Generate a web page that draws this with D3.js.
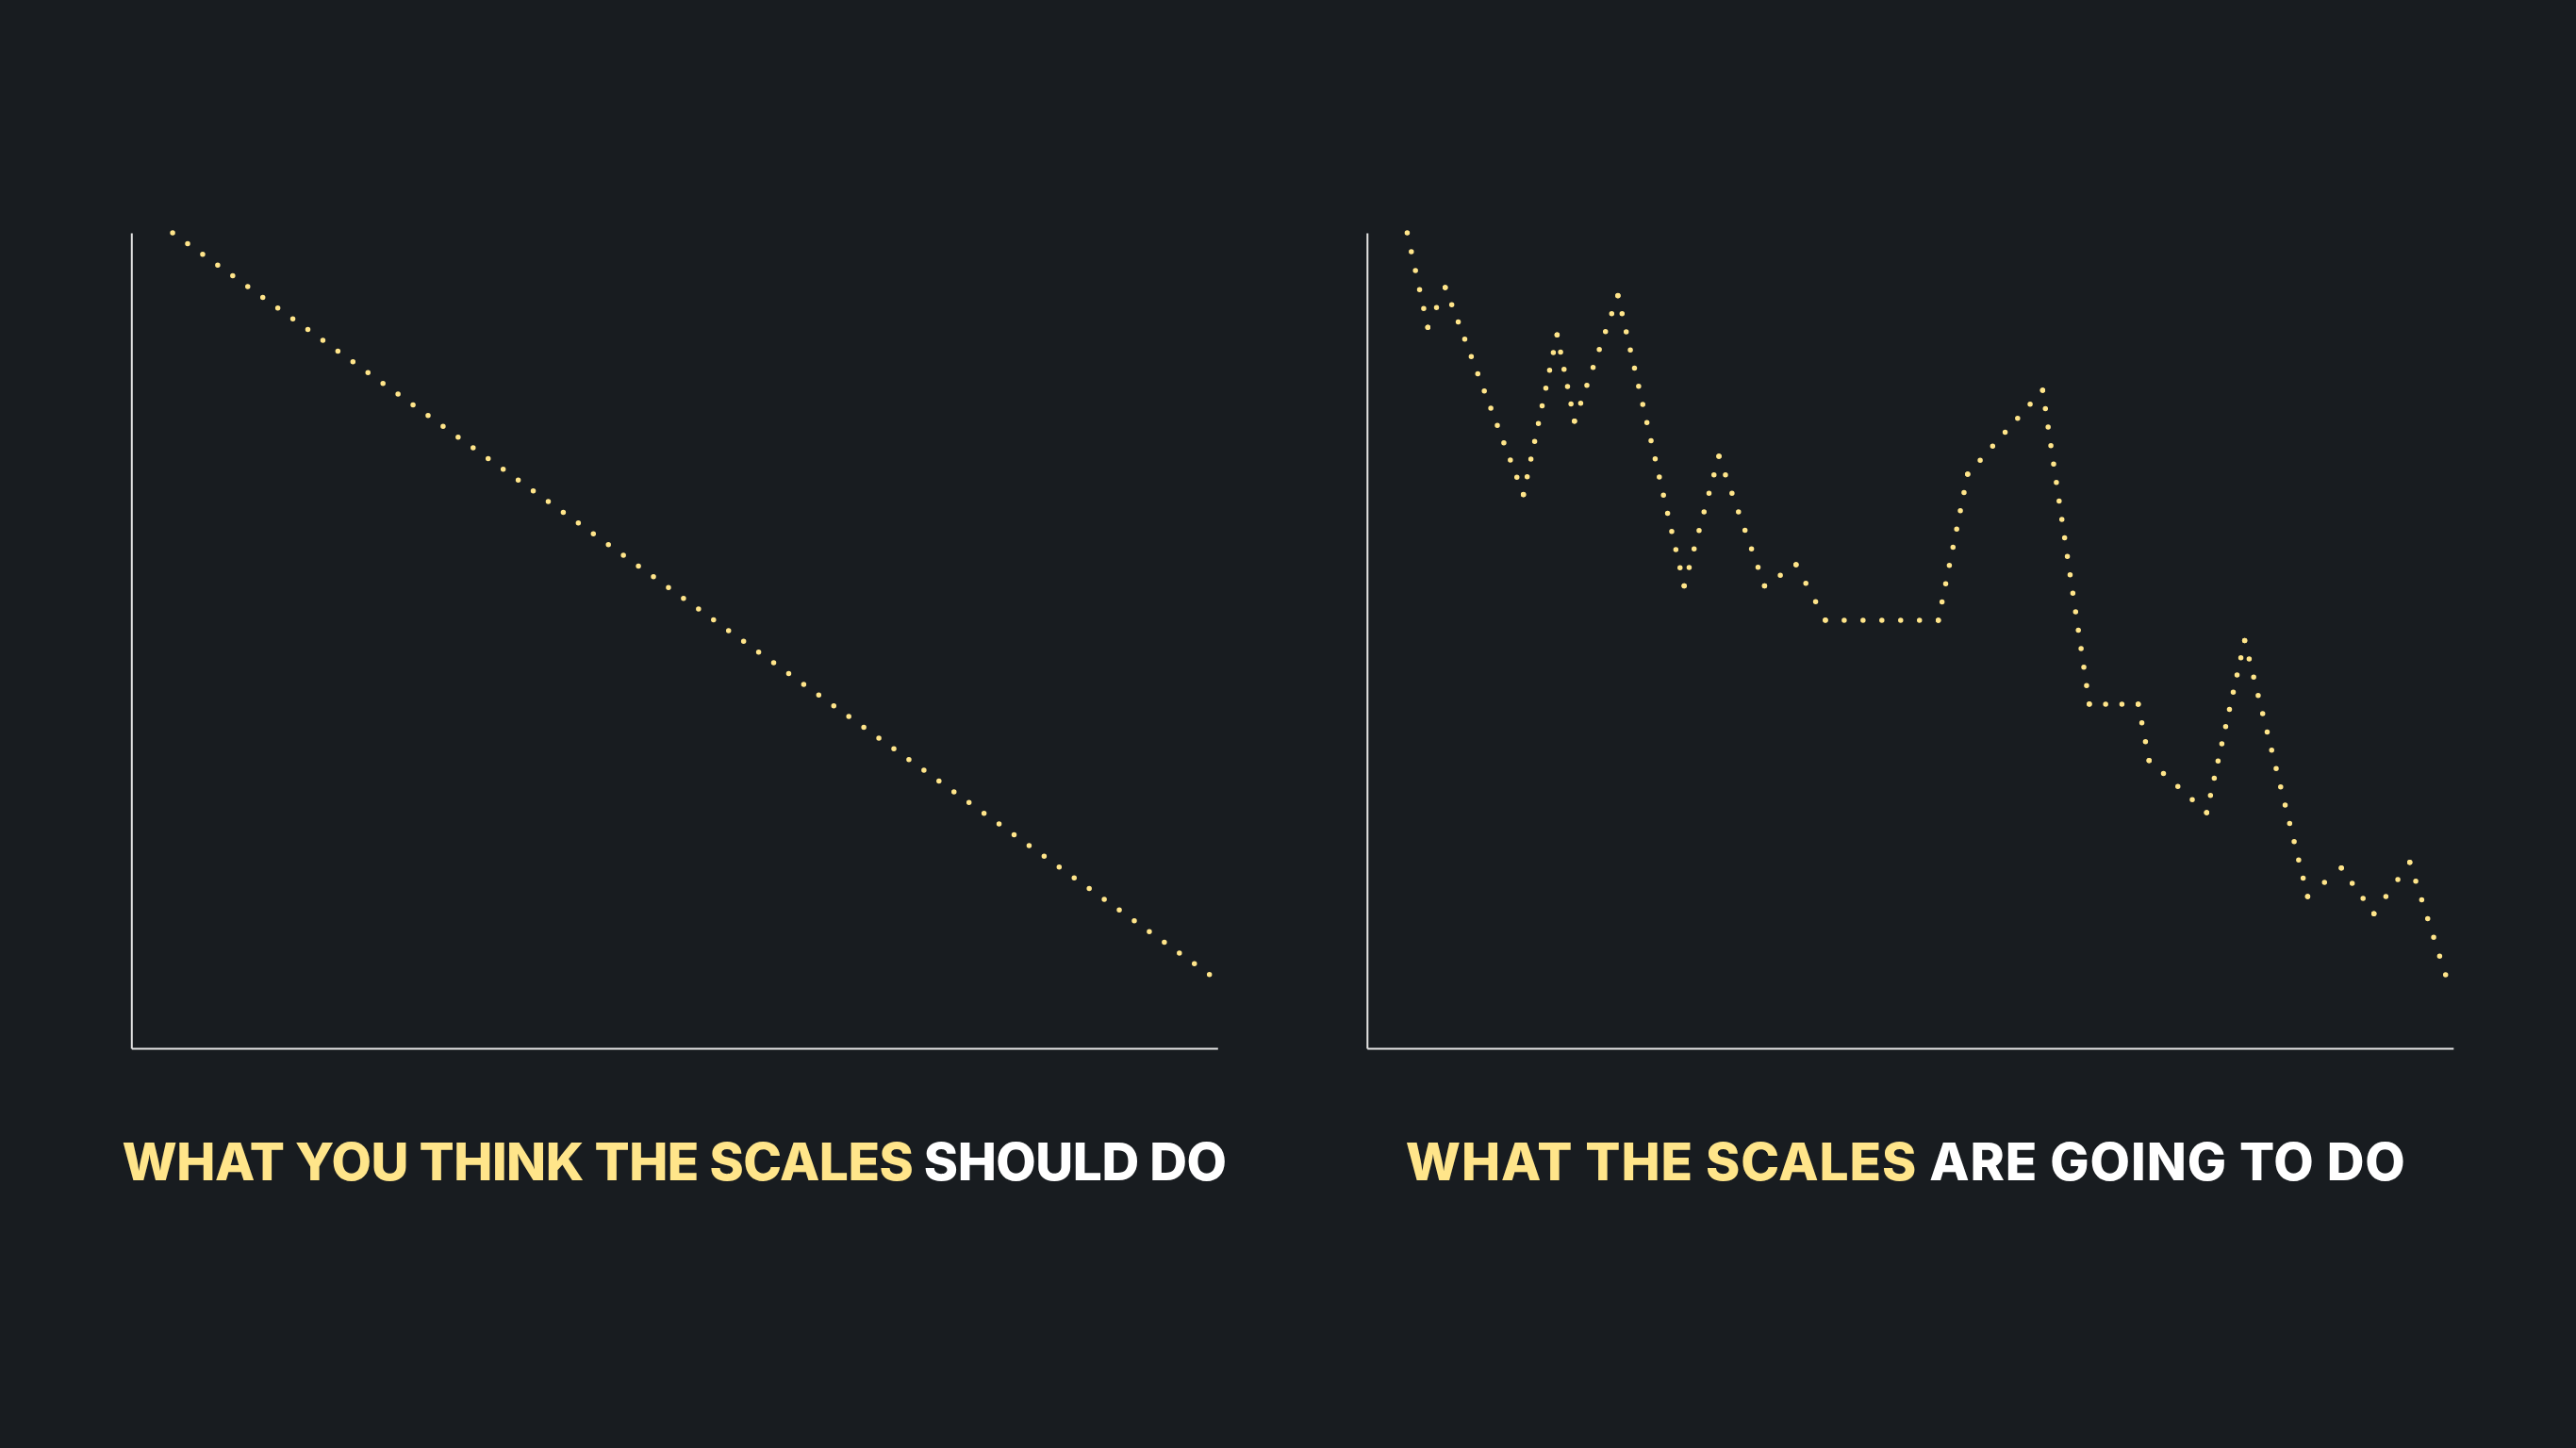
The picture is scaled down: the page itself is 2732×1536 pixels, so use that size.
<!DOCTYPE html>
<html>
<head>
<meta charset="utf-8">
<script src="https://cdn.jsdelivr.net/npm/d3@7"></script>
<style>
  html, body { margin: 0; padding: 0; background: #181c20; }
  svg { display: block; }
</style>
</head>
<body>
<div id="chart"></div>
<script>

// Data: "expected" straight line, and the bumpy "actual" line (x and y in % of the axes)
const expectedX = [3.8, 99.3];
const expectedY = [100, 9.0];

const actualX = [3.7, 5.6, 7.2, 14.4, 17.5, 19.1, 23.1, 29.2, 32.4, 36.6, 39.5, 42.2, 52.6,
                 55.3, 62.2, 66.5, 71.0, 72.0, 77.3, 80.8, 86.6, 89.7, 92.7, 96.0, 99.3];
const actualY = [100, 88.4, 93.3, 67.9, 87.5, 76.9, 92.3, 56.7, 72.6, 56.7, 59.3, 52.5, 52.5,
                 70.4, 80.7, 42.2, 42.2, 35.3, 28.9, 50.0, 18.6, 22.1, 16.5, 22.8, 9.0];

const leftTitle = ["WHAT YOU THINK THE SCALES", " SHOULD DO"];
const rightTitle = ["WHAT THE SCALES", " ARE GOING TO DO"];

function drawChart(width, height, selector) {

	// colours
	let bg = "#181c20";
	let yellow = "#ffe58a";
	let white = "#ffffff";
	let axisColor = "#e4e4e4";

	// dimensions
	let panelWidth = 1152;
	let top = 247;
	let bottom = 1112;
	let titleY = 1252;
	let dotGap = 19.6;

	let svg = d3.select(selector)
		.append("svg")
		.attr("width", width)
		.attr("height", height)
		.style("background", bg);

	function drawPanel(left, xs, ys, title, titleWidth, titleShift) {
		let x = d3.scaleLinear().domain([0, 100]).range([left, left + panelWidth]);
		let y = d3.scaleLinear().domain([0, 100]).range([bottom, top]);

		let g = svg.append("g");

		// axes: only the domain lines, no ticks
		g.append("g")
			.attr("transform", `translate(0,${bottom})`)
			.call(d3.axisBottom(x).ticks(0).tickSize(0).tickSizeOuter(0));
		g.append("g")
			.attr("transform", `translate(${left},0)`)
			.call(d3.axisLeft(y).ticks(0).tickSize(0).tickSizeOuter(0));
		g.selectAll(".domain")
			.attr("stroke", axisColor)
			.attr("stroke-width", 2);

		// dotted line, dots aligned to each corner
		let points = xs.map((d, i) => [d, ys[i]]);
		let line = d3.line().x(d => x(d[0])).y(d => y(d[1]));

		g.selectAll(".seg")
			.data(d3.pairs(points))
			.join("path")
			.attr("class", "seg")
			.attr("d", d => line(d))
			.attr("fill", "none")
			.attr("stroke", yellow)
			.attr("stroke-width", 5.5)
			.attr("stroke-linecap", "round")
			.attr("stroke-dasharray", function() {
				let len = this.getTotalLength();
				let n = Math.max(1, Math.round(len / dotGap));
				return `0 ${len / n - 0.01}`;
			});

		// title
		let t = g.append("text")
			.attr("x", left + panelWidth / 2 + titleShift)
			.attr("y", titleY)
			.attr("text-anchor", "middle")
			.style("font-family", "Inter, 'Noto Sans', sans-serif")
			.style("font-weight", 800)
			.style("font-size", "55px");
		t.append("tspan").attr("fill", yellow).text(title[0]);
		t.append("tspan").attr("fill", white).text(title[1]);

		// stretch letter spacing so the title fills the same width as the original
		let nChars = (title[0] + title[1]).length;
		let measured = t.node().getComputedTextLength();
		let spacing = (titleWidth - measured) / nChars;
		t.style("letter-spacing", spacing + "px");
		t.attr("x", left + panelWidth / 2 + titleShift + spacing / 2);
	}

	drawPanel(139.3, expectedX, expectedY, leftTitle, 1171, 0);
	drawPanel(1449.8, actualX, actualY, rightTitle, 1061, -5);
}

drawChart(2732, 1536, "#chart");
</script>
</body>
</html>
